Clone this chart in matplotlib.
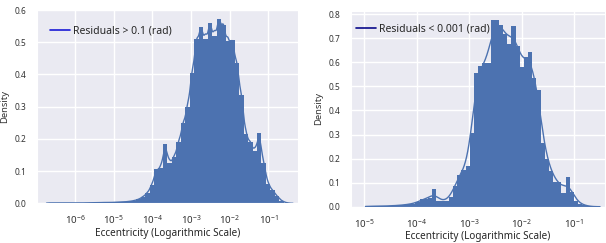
import matplotlib
matplotlib.use("Agg")
import matplotlib.pyplot as plt
import numpy as np
import seaborn as sns
from matplotlib.lines import Line2D

sns.set_style("darkgrid")
plt.rcParams['font.family'] = ['Noto Sans', 'DejaVu Sans']
plt.rcParams['mathtext.fontset'] = 'custom'
plt.rcParams['mathtext.rm'] = 'Noto Sans'
plt.rcParams['mathtext.it'] = 'Noto Sans:italic'

# log10(eccentricity) histograms, density heights
left_start = -6.734
left_width = 0.1157
left_heights = [
    0.0012, 0.0012, 0.0012, 0.0012, 0.0012, 0.0012, 0.0012, 0.0012, 0.0012,
    0.0018, 0.0018, 0.0018, 0.0025, 0.0025, 0.0025, 0.0035, 0.004, 0.0045,
    0.006, 0.008, 0.012, 0.02, 0.032, 0.056,
    0.105, 0.11, 0.183, 0.125, 0.143, 0.19, 0.248, 0.30, 0.405, 0.51,
    0.548, 0.51, 0.56, 0.52, 0.573, 0.553, 0.504, 0.508, 0.434, 0.337,
    0.215, 0.19, 0.161, 0.217, 0.124, 0.06, 0.04, 0.022, 0.008, 0.002,
]
left_label = "Residuals > 0.1 (rad)"

right_start = -4.977
right_width = 0.0795
right_heights = [
    0.002, 0.002, 0.002, 0.002, 0.003, 0.003, 0.004, 0.005, 0.006, 0.008,
    0.010, 0.013, 0.018,
    0.030, 0.033, 0.035, 0.074, 0.025, 0.022, 0.025, 0.042, 0.088, 0.133,
    0.154, 0.168,
    0.307, 0.556, 0.583, 0.597, 0.597, 0.775, 0.775, 0.754, 0.72, 0.678,
    0.75, 0.667, 0.58, 0.622, 0.643, 0.536, 0.486,
    0.265, 0.2, 0.15, 0.104, 0.104, 0.056, 0.125, 0.06, 0.025, 0.011,
    0.006, 0.002,
]
right_label = "Residuals < 0.001 (rad)"

left_ticks = [-6, -5, -4, -3, -2, -1]
right_ticks = [-5, -4, -3, -2, -1]

bar_color = "#4c72b0"

fig = plt.figure(figsize=(6.06, 2.43), dpi=100)
ax1 = fig.add_axes([0.061, 0.1634, 0.4307, 0.798])
ax2 = fig.add_axes([0.5792, 0.1494, 0.4186, 0.8066])


def draw(ax, start, width, heights, bw, label, handle_color, xlim, ylim, ticks, anchor):
    heights = np.array(heights)
    edges = start + width * np.arange(len(heights) + 1)
    centers = (edges[:-1] + edges[1:]) / 2
    ax.bar(centers, heights, width=width, color=bar_color, linewidth=0, zorder=2)
    # weighted gaussian kde of the binned values
    xs = np.linspace(edges[0], edges[-1] + 2 * bw, 600)
    w = heights * width
    kde = (w[None, :] * np.exp(-0.5 * ((xs[:, None] - centers[None, :]) / bw) ** 2)
           / (bw * np.sqrt(2 * np.pi))).sum(axis=1)
    ax.plot(xs, kde, color=bar_color, linewidth=1, zorder=3)
    ax.set_xlim(*xlim)
    ax.set_ylim(*ylim)
    ax.set_xticks(ticks)
    ax.set_xticklabels([r"$10^{%d}$" % t for t in ticks])
    ax.tick_params(axis='both', labelsize=6, pad=4, colors='#333333')
    ax.tick_params(axis='x', labelsize=7)
    ax.set_xlabel("Eccentricity (Logarithmic Scale)", fontsize=7.2, labelpad=1)
    ax.set_ylabel("Density", fontsize=6.8, labelpad=4, color='#333333')
    ax.grid(color='white', linewidth=1)
    h = Line2D([], [], color=handle_color, linewidth=1.2)
    ax.legend([h], [label], loc='center left', frameon=False, fontsize=7.5,
              bbox_to_anchor=anchor, borderpad=0, borderaxespad=0,
              handlelength=1.9, handletextpad=0.3)


draw(ax1, left_start, left_width, left_heights, 0.06, left_label, "#1a1ad6",
     (-6.982, -0.237), (0, 0.602), left_ticks, (0.05, 0.89))
ax1.set_yticks([0.0, 0.1, 0.2, 0.3, 0.4, 0.5, 0.6])

draw(ax2, right_start, right_width, right_heights, 0.09, right_label, "#0a0a8a",
     (-5.253, -0.415), (0, 0.815), right_ticks, (0.02, 0.907))
ax2.set_yticks([0.0, 0.1, 0.2, 0.3, 0.4, 0.5, 0.6, 0.7, 0.8])

fig.savefig("out.png", dpi=100)
